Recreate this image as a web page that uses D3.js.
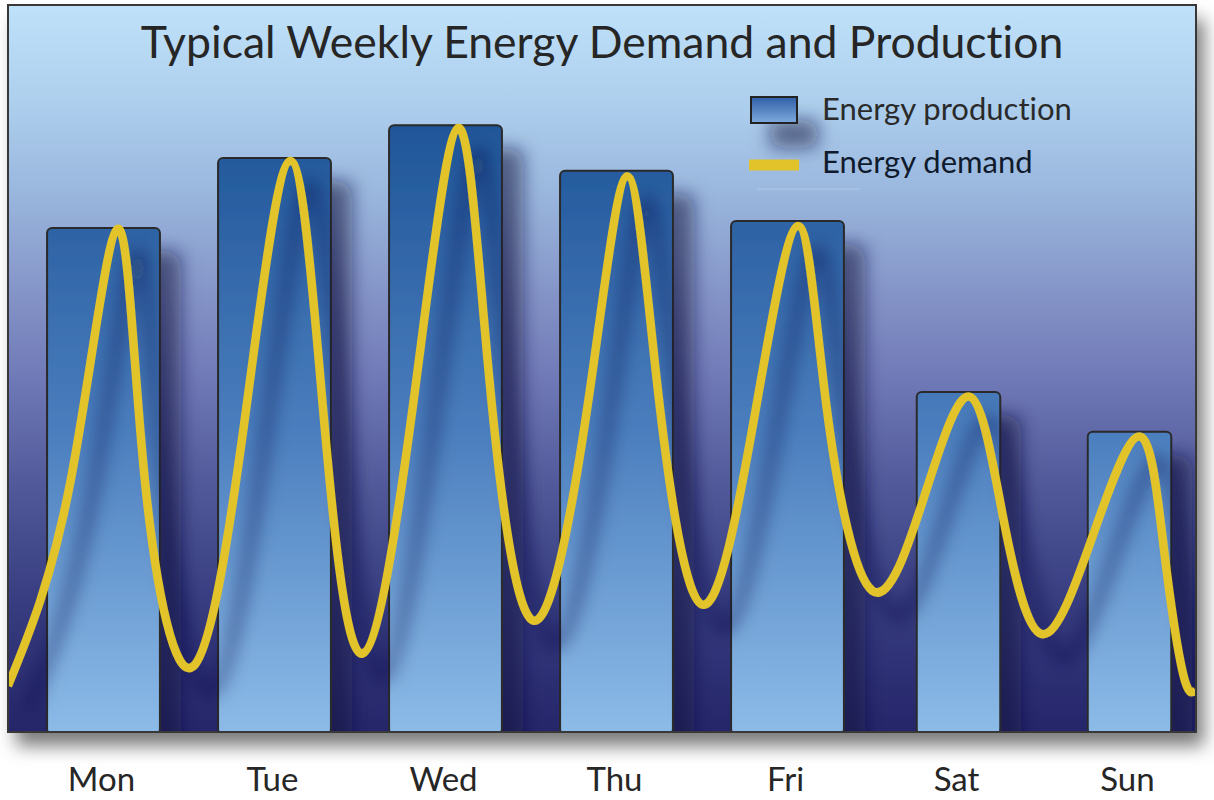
<!DOCTYPE html>
<html>
  <head>
    <script src="https://d3js.org/d3.v7.min.js"></script>
    <style>
      html, body {
        margin: 0;
        padding: 0;
        overflow: hidden;
        background: #fff;
      }
      text {
        font-family: Lato, "Open Sans", sans-serif;
        font-variant-ligatures: none;
      }
    </style>
  </head>
  <body>
    <div id="chart"></div>
    <script>
      // Chart data
      const title = "Typical Weekly Energy Demand and Production";
      const days = ["Mon", "Tue", "Wed", "Thu", "Fri", "Sat", "Sun"];
      const production = [71.7, 81.7, 86.4, 79.9, 72.7, 48.3, 42.6];
      const legendLabels = ["Energy production", "Energy demand"];

      // Demand curve: hour of the week and level
      // (troughs, flank middles and peaks)
      const demandHour = [
        -1.4, 7.4, 14.0, 17.8,
        24.6, 32.0, 38.2, 42.8,
        48.3, 55.7, 61.8, 66.1,
        72.4, 80.1, 85.5, 89.8,
        96.1, 103.4, 109.5, 113.5,
        119.9, 127.3, 133.6, 138.2,
        143.7, 150.9, 157.5, 160.8, 163.5, 165.3
      ];
      const demandValue = [
        6.3, 35.7, 71.6, 35.7,
        9.1, 45.7, 81.3, 46.0,
        10.9, 48.4, 86.0, 50.7,
        15.6, 47.4, 79.1, 48.6,
        17.9, 45.0, 72.0, 46.0,
        19.9, 33.7, 47.6, 30.7,
        13.7, 27.9, 41.9, 26.1, 8.1, 5.7
      ];

      const width = 1214;
      const height = 800;
      const panel = { x: 8, y: 5, w: 1188, h: 727 };
      const yellow = "#e2c42a";

      const svg = d3.select("#chart")
        .append("svg")
        .attr("width", width)
        .attr("height", height);

      const defs = svg.append("defs");

      // background gradient of the panel
      const bg = defs.append("linearGradient")
        .attr("id", "bg").attr("x1", 0).attr("y1", 0).attr("x2", 0).attr("y2", 1);
      [[0, "#bfe1f9"], [0.13, "#aed0ee"], [0.27, "#98b4dc"], [0.4, "#8493c7"],
       [0.52, "#6f78b6"], [0.65, "#535b9c"], [0.82, "#373d80"], [1, "#25256a"]]
        .forEach(s => bg.append("stop").attr("offset", s[0]).attr("stop-color", s[1]));

      // scales
      const x = d3.scaleBand()
        .domain(days)
        .range([18, 1215])
        .paddingInner(0.34)
        .paddingOuter(0.17);
      const xHour = d3.scaleLinear().domain([0, 168]).range([18, 1215]);
      const y = d3.scaleLinear().domain([0, 100]).range([730, 30]);

      // bar gradient, same for every bar (absolute y)
      const barGrad = defs.append("linearGradient")
        .attr("id", "barGrad")
        .attr("gradientUnits", "userSpaceOnUse")
        .attr("x1", 0).attr("x2", 0)
        .attr("y1", y(d3.max(production))).attr("y2", y(0));
      barGrad.append("stop").attr("offset", 0).attr("stop-color", "#1f5699");
      barGrad.append("stop").attr("offset", 0.5).attr("stop-color", "#4a7dbd");
      barGrad.append("stop").attr("offset", 1).attr("stop-color", "#8cbbe8");

      const swatchGrad = defs.append("linearGradient")
        .attr("id", "swatchGrad").attr("x1", 0).attr("y1", 0).attr("x2", 0).attr("y2", 1);
      swatchGrad.append("stop").attr("offset", 0).attr("stop-color", "#2f5fa6");
      swatchGrad.append("stop").attr("offset", 1).attr("stop-color", "#7eaadf");

      // shadows
      const sh = defs.append("filter")
        .attr("id", "shadow")
        .attr("filterUnits", "userSpaceOnUse")
        .attr("x", 0).attr("y", 0).attr("width", width).attr("height", height);
      sh.append("feDropShadow")
        .attr("dx", 20).attr("dy", 24).attr("stdDeviation", 9)
        .attr("flood-color", "#141840").attr("flood-opacity", 0.55);

      const blur = defs.append("filter")
        .attr("id", "panelShadow")
        .attr("x", "-10%").attr("y", "-10%").attr("width", "120%").attr("height", "120%");
      blur.append("feGaussianBlur").attr("stdDeviation", 9);

      defs.append("clipPath").attr("id", "clip")
        .append("rect")
        .attr("x", panel.x).attr("y", panel.y)
        .attr("width", panel.w).attr("height", panel.h);

      // panel shadow + panel
      svg.append("rect")
        .attr("x", panel.x + 8).attr("y", panel.y + 14)
        .attr("width", panel.w).attr("height", panel.h)
        .attr("fill", "#7a7a7a")
        .attr("filter", "url(#panelShadow)");

      svg.append("rect")
        .attr("x", panel.x).attr("y", panel.y)
        .attr("width", panel.w).attr("height", panel.h)
        .attr("fill", "url(#bg)");

      const plot = svg.append("g").attr("clip-path", "url(#clip)");

      // bars
      const barW = d => x.bandwidth() * (d === "Sat" || d === "Sun" ? 0.74 : 1);
      plot.append("g")
        .attr("filter", "url(#shadow)")
        .selectAll("rect")
        .data(days)
        .enter()
        .append("rect")
        .attr("x", d => x(d) + (x.bandwidth() - barW(d)) / 2)
        .attr("y", (d, i) => y(production[i]))
        .attr("width", d => barW(d))
        .attr("height", (d, i) => y(0) - y(production[i]) + 4)
        .attr("rx", 5)
        .attr("fill", "url(#barGrad)")
        .attr("stroke", "#2a2a2a")
        .attr("stroke-width", 2);

      // demand curve
      const line = d3.line()
        .x(i => xHour(demandHour[i]))
        .y(i => y(demandValue[i]))
        .curve(d3.curveNatural);

      plot.append("path")
        .datum(d3.range(demandHour.length))
        .attr("d", line)
        .attr("fill", "none")
        .attr("stroke", yellow)
        .attr("stroke-width", 8.5)
        .attr("filter", "url(#shadow)");

      // panel border
      svg.append("rect")
        .attr("x", panel.x).attr("y", panel.y)
        .attr("width", panel.w).attr("height", panel.h)
        .attr("fill", "none")
        .attr("stroke", "#383838")
        .attr("stroke-width", 2);

      // title
      svg.append("text")
        .attr("x", panel.x + panel.w / 2)
        .attr("y", 58)
        .attr("text-anchor", "middle")
        .attr("fill", "#262626")
        .style("font-size", "44.5px")
        .text(title);

      // legend
      const legend = svg.append("g");
      legend.append("rect")
        .attr("x", 751).attr("y", 97)
        .attr("width", 46).attr("height", 26)
        .attr("fill", "url(#swatchGrad)")
        .attr("stroke", "#222")
        .attr("stroke-width", 2)
        .attr("filter", "url(#shadow)");
      legend.append("line")
        .attr("x1", 749).attr("x2", 799)
        .attr("y1", 165).attr("y2", 165)
        .attr("stroke", yellow)
        .attr("stroke-width", 11);
      legend.append("line")
        .attr("x1", 757).attr("x2", 860)
        .attr("y1", 189).attr("y2", 189)
        .attr("stroke", "#c8dcf2")
        .attr("stroke-opacity", 0.5);
      legend.selectAll("text.leg")
        .data(legendLabels)
        .enter()
        .append("text")
        .attr("class", "leg")
        .attr("x", 822)
        .attr("y", (d, i) => 120 + i * 53)
        .attr("fill", (d, i) => i === 0 ? "#2a2a2a" : "#0f1a2c")
        .style("font-size", "31px")
        .text(d => d);

      // day labels
      svg.append("g")
        .selectAll("text")
        .data(days)
        .enter()
        .append("text")
        .attr("x", d => x(d) + x.bandwidth() / 2 - 2)
        .attr("y", 791)
        .attr("text-anchor", "middle")
        .attr("fill", "#262626")
        .style("font-size", "33px")
        .text(d => d);
    </script>
  </body>
</html>
